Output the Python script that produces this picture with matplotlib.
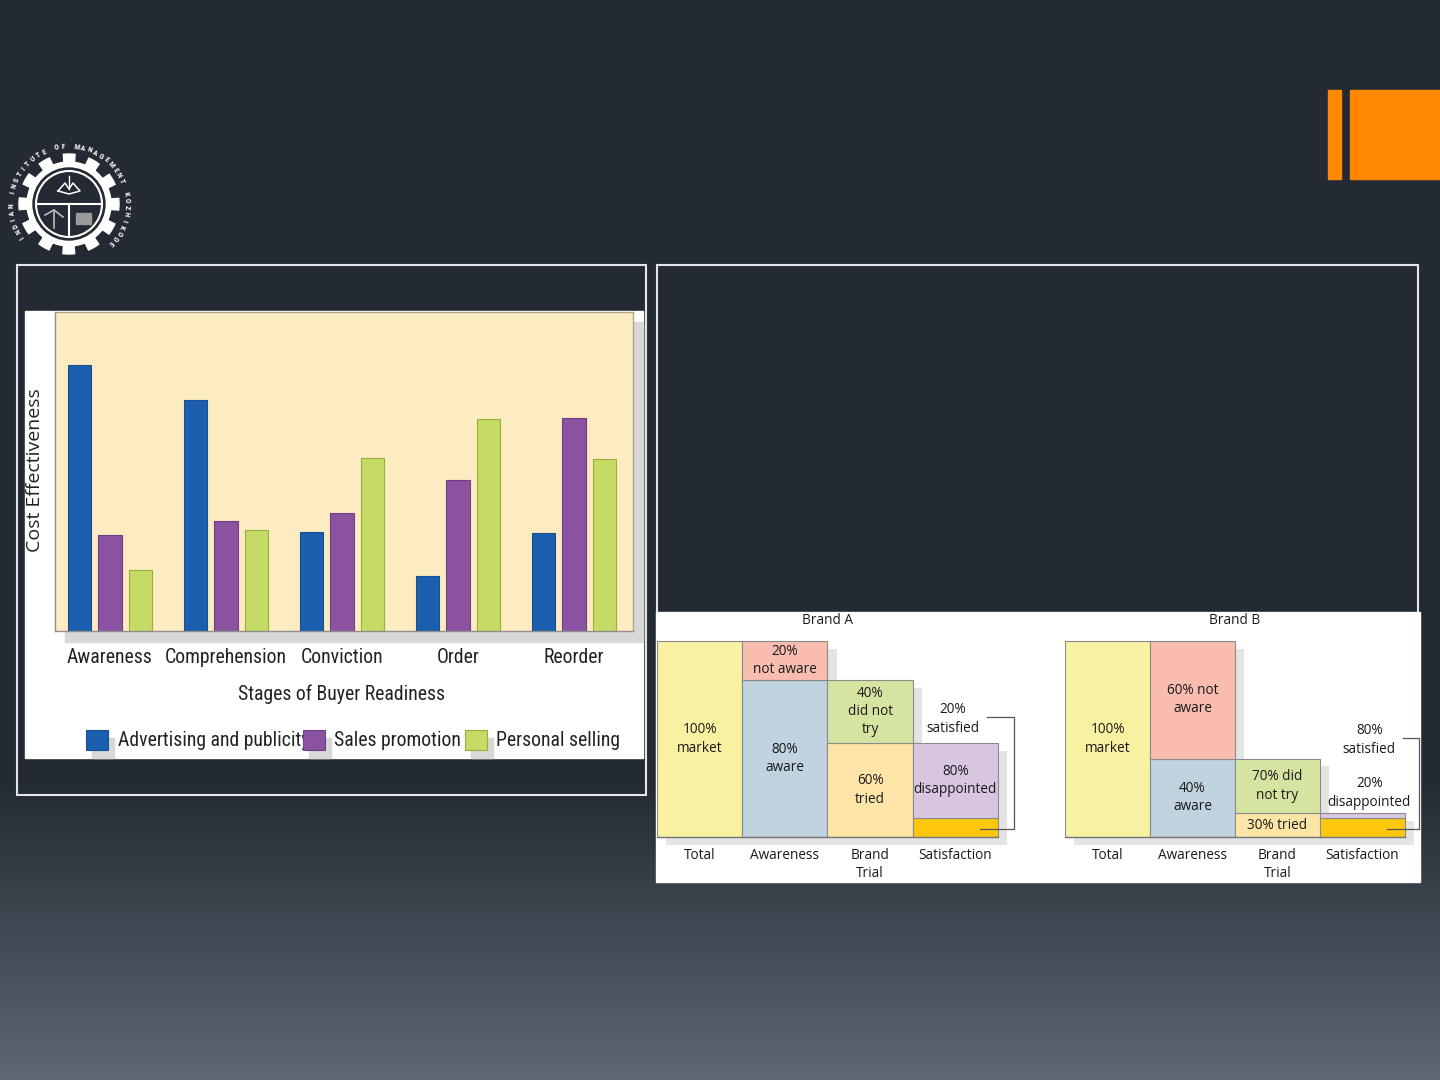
import numpy as np
import matplotlib.pyplot as plt
from matplotlib.patches import Rectangle, Circle, Polygon

# ---------------- data ----------------
# left chart: cost effectiveness by stage (arbitrary units)
stages = ["Awareness", "Comprehension", "Conviction", "Order", "Reorder"]
advertising = [266, 231, 99, 55, 98]
sales_promotion = [96, 110, 118, 151, 213]
personal_selling = [61, 101, 173, 212, 172]
series_names = ["Advertising and publicity", "Sales promotion", "Personal selling"]

# right chart: funnel, each rate is a % of the previous step
funnel_steps = ["Total", "Awareness", "Brand\nTrial", "Satisfaction"]
brand_a_rates = [100, 80, 60, 20]
brand_b_rates = [100, 40, 30, 80]
brand_a_labels = [("100%\nmarket", None), ("80%\naware", "20%\nnot aware"),
                  ("60%\ntried", "40%\ndid not\ntry"), ("20%\nsatisfied", "80%\ndisappointed")]
brand_b_labels = [("100%\nmarket", None), ("40%\naware", "60% not\naware"),
                  ("30% tried", "70% did\nnot try"), ("80%\nsatisfied", "20%\ndisappointed")]

W, H = 1440, 1080
BG_TOP = np.array([35, 42, 51]) / 255
BG_BOT = np.array([94, 104, 115]) / 255
NARROW = ['Roboto Condensed', 'Roboto']
NARROW_SIZE = 14.2
SANS = ['Open Sans', 'DejaVu Sans']

fig = plt.figure(figsize=(14.4, 10.8), dpi=100)


def px_axes(x0, y0, x1, y1):
    return fig.add_axes([x0 / W, 1 - y1 / H, (x1 - x0) / W, (y1 - y0) / H])


# background layer in pixel coordinates
bg = px_axes(0, 0, W, H)
rows = np.arange(H)
t = np.clip((rows - 780) / 300, 0, 1)
grad = BG_TOP + (BG_BOT - BG_TOP) * t[:, None]
bg.imshow(np.repeat(grad[:, None, :], 2, axis=1), extent=[0, W, H, 0], aspect='auto', zorder=0)
bg.set_xlim(0, W)
bg.set_ylim(H, 0)
bg.axis('off')

# orange corner bars
bg.add_patch(Rectangle((1328, 90), 13, 89, color='#ff8800', zorder=2))
bg.add_patch(Rectangle((1350, 90), 90, 89, color='#ff8800', zorder=2))

# panel frames
bg.add_patch(Rectangle((17, 265), 629, 530, fill=False, ec='#e2e6eb', lw=1.5, zorder=2))
bg.add_patch(Rectangle((657, 265), 761, 530, fill=False, ec='#e2e6eb', lw=1.5, zorder=2))

# logo (rough)
cx, cy = 69, 204
ang = np.linspace(0, 2 * np.pi, 720, endpoint=False)
r = np.where((np.degrees(ang) + 7) % 30 < 14, 50, 42)
bg.add_patch(Polygon(np.c_[cx + r * np.cos(ang), cy - r * np.sin(ang)], color='white', zorder=3))
bg.add_patch(Circle((cx, cy), 36, color='#232a33', zorder=4))
bg.add_patch(Circle((cx, cy), 33, fill=False, ec='white', lw=1.5, zorder=5))
bg.plot([cx - 33, cx + 33], [cy, cy], color='white', lw=1.5, zorder=5)
bg.plot([cx, cx], [cy, cy + 33], color='white', lw=1.5, zorder=5)
bg.plot([cx - 11, cx - 4, cx, cx + 4, cx + 11, cx, cx - 11], [cy - 13, cy - 21, cy - 15, cy - 21, cy - 13, cy - 10, cy - 13],
        color='white', lw=1.1, zorder=5)
bg.plot([cx, cx], [cy - 28, cy - 15], color='white', lw=1.0, zorder=5)
bg.add_patch(Rectangle((cx + 7, cy + 9), 15, 11, color='#9a9a9a', zorder=5))
bg.plot([cx - 24, cx - 15, cx - 6], [cy + 11, cy + 6, cy + 13], color='#bbbbbb', lw=1.2, zorder=5)
bg.plot([cx - 15, cx - 15], [cy + 6, cy + 24], color='#bbbbbb', lw=1.2, zorder=5)
logo_text = "INDIAN INSTITUTE OF MANAGEMENT KOZHIKODE"
for i, ch in enumerate(logo_text):
    a = 215 - i * 258 / (len(logo_text) - 1)
    ar = np.radians(a)
    bg.text(cx + 58 * np.cos(ar), cy - 58 * np.sin(ar), ch, rotation=a - 90, ha='center', va='center',
            fontsize=5.6, fontweight='bold', family=NARROW, color='white', zorder=5)

# ---------------- left chart ----------------
bg.add_patch(Rectangle((25, 311), 618, 447, color='white', zorder=2))
bg.add_patch(Rectangle((65, 322), 578, 320, color='#d8d8d8', zorder=3))

ax = px_axes(55, 312, 633, 631)
ax.set_facecolor('#fdecc1')
x = np.arange(len(stages))
colors = ['#1b5fae', '#8a52a0', '#c6da66']
edges = ['#174f92', '#6f3f85', '#9aae3e']
for k, vals in enumerate([advertising, sales_promotion, personal_selling]):
    ax.bar(x + (k - 1) * 0.26, vals, width=0.2, color=colors[k], edgecolor=edges[k], lw=0.8)
ax.set_xlim(-0.474, 4.509)
ax.set_ylim(0, 319)
ax.set_yticks([])
ax.set_xticks(x, stages, fontsize=NARROW_SIZE, family=NARROW, color='#222222')
ax.tick_params(axis='x', length=0, pad=12)
for s in ax.spines.values():
    s.set_color('#b0a68c')
    s.set_linewidth(1)
ax.spines['left'].set_color('#8f8f8f')
ax.spines['bottom'].set_color('#8f8f8f')

bg.text(35, 470, "Cost Effectiveness", rotation=90, ha='center', va='center', fontsize=14,
        family=SANS, color='#222222', zorder=4)
bg.text(342, 694, "Stages of Buyer Readiness", ha='center', va='center', fontsize=NARROW_SIZE,
        family=NARROW, color='#222222', zorder=4)

# legend drawn by hand to match the picture
leg_box_x = [86, 303, 465]
leg_text_x = [118, 334, 496]
for k in range(3):
    bg.text(leg_text_x[k], 741, series_names[k], ha='left', va='center', fontsize=NARROW_SIZE,
            family=NARROW, color='#222222', zorder=4)
    bg.add_patch(Rectangle((leg_box_x[k] + 6, 738), 22, 20, color='#d8d8d8', zorder=5))
    bg.add_patch(Rectangle((leg_box_x[k], 730), 22, 20, color=colors[k], ec=edges[k], lw=0.8, zorder=6))

# ---------------- right chart: funnels ----------------
bg.add_patch(Rectangle((656, 612), 764, 270, color='white', zorder=2))

kept_colors = ['#f8f1a2', '#c0d3df', '#fde5a8', '#fcc70c']
lost_colors = ['none', '#f8bdaf', '#d6e4a2', '#d8c6e0']


def draw_funnel(ax, rates, labels, outside, title, xmax, bracket_x):
    kept = [rates[0]]
    for rt in rates[1:]:
        kept.append(kept[-1] * rt / 100)
    lost = [0] + [kept[i - 1] - kept[i] for i in range(1, len(kept))]
    cols = np.arange(len(kept))
    tops = np.array(kept) + np.array(lost)
    ax.bar(cols + 0.11, tops, bottom=-4, width=1, align='edge', color='#e4e4e4', zorder=1)
    ax.bar(cols, kept, width=1, align='edge', color=kept_colors, edgecolor='#8a8a8a', lw=0.8, zorder=2)
    ax.bar(cols[1:], lost[1:], bottom=kept[1:], width=1, align='edge', color=lost_colors[1:],
           edgecolor='#8a8a8a', lw=0.8, zorder=2)
    ax.plot([0, len(kept)], [0, 0], color='#777777', lw=1.0, zorder=3)
    for i, (k_lbl, l_lbl) in enumerate(labels):
        for lbl, part, yc in [(k_lbl, 'kept', kept[i] / 2), (l_lbl, 'lost', kept[i] + lost[i] / 2)]:
            if lbl is None:
                continue
            px, py = outside.get((i, part), (i + 0.5, yc))
            ax.text(px, py, lbl, ha='center', va='center', fontsize=9.8, family=SANS,
                    color='#1a1a1a', linespacing=1.3, zorder=4)
    # bracket from the "satisfied" label down to its segment
    lx, ly = outside[(len(kept) - 1, 'kept')]
    ax.plot([lx + 0.4, bracket_x, bracket_x, 3.79], [ly + 1, ly + 1, kept[-1] * 0.45, kept[-1] * 0.45],
            color='#555555', lw=0.9, zorder=5, clip_on=False)
    for i, step in enumerate(funnel_steps):
        ax.text(i + 0.5, -5.5, step, ha='center', va='top', fontsize=9.8, family=SANS,
                color='#1a1a1a', linespacing=1.3)
    ax.text(2, 110.7, title, ha='center', va='center', fontsize=9.8, family=SANS, color='#1a1a1a')
    ax.set_xlim(0, xmax)
    ax.set_ylim(-22.96, 114.8)
    ax.axis('off')


axa = px_axes(657, 612, 1040, 882)
draw_funnel(axa, brand_a_rates, brand_a_labels, {(3, 'kept'): (3.47, 60.2)}, "Brand A", 4.493, 4.19)
axb = px_axes(1065, 612, 1420, 882)
draw_funnel(axb, brand_b_rates, brand_b_labels, {(3, 'kept'): (3.58, 49.5), (3, 'lost'): (3.58, 22.4)},
            "Brand B", 4.176, 4.16)

fig.savefig("out.png", dpi=100)
